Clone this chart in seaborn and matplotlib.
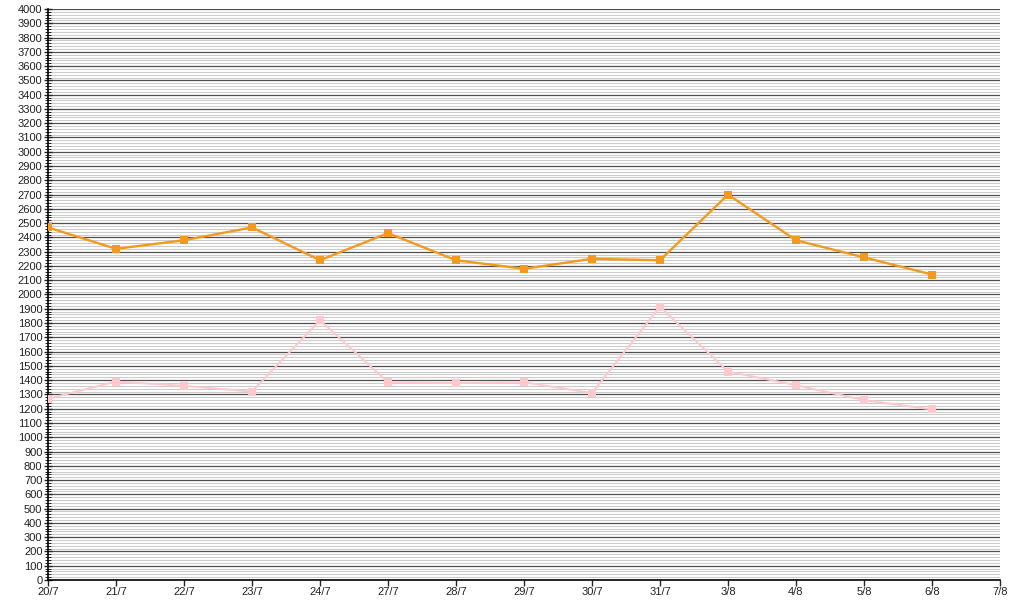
import numpy as np
import pandas as pd
import matplotlib.pyplot as plt
from matplotlib.ticker import MultipleLocator
import seaborn as sns

# Daily values
dates = ["20/7", "21/7", "22/7", "23/7", "24/7", "27/7", "28/7", "29/7",
         "30/7", "31/7", "3/8", "4/8", "5/8", "6/8"]
tick_labels = dates + ["7/8"]
orange_vals = [2470, 2320, 2380, 2470, 2240, 2430, 2240, 2180, 2250, 2240, 2700, 2380, 2260, 2140]
pink_vals = [1270, 1390, 1360, 1320, 1820, 1385, 1380, 1385, 1310, 1915, 1460, 1365, 1260, 1195]

df = pd.DataFrame({
    "pos": np.arange(len(dates)),
    "orange": orange_vals,
    "pink": pink_vals,
})

sns.set_style("white")
plt.rcParams["font.family"] = ["Liberation Sans", "DejaVu Sans"]

fig = plt.figure(figsize=(10.15, 6), dpi=100)
ax = fig.add_axes([48 / 1015, 20 / 600, 952 / 1015, 571 / 600])

sns.lineplot(data=df, x="pos", y="pink", ax=ax, color="#ffc8cc", linewidth=1.4,
             marker="s", markersize=5.5, markeredgewidth=0, zorder=3)
sns.lineplot(data=df, x="pos", y="orange", ax=ax, color="#f39a1e", linewidth=1.7,
             marker="s", markersize=5.5, markeredgewidth=0, zorder=4)

ax.set_xlim(0, len(tick_labels) - 1)
ax.set_ylim(0, 4000)
ax.set_xticks(range(len(tick_labels)))
ax.set_xticklabels(tick_labels)
ax.yaxis.set_major_locator(MultipleLocator(100))
ax.yaxis.set_minor_locator(MultipleLocator(20))

ax.grid(which="major", axis="y", color="#505050", linewidth=0.9)
ax.grid(which="minor", axis="y", color="#cccccc", linewidth=0.8)
ax.grid(which="major", axis="x", visible=False)
ax.set_axisbelow(True)

ax.tick_params(axis="y", which="major", direction="inout", length=6, width=1,
               labelsize=8, pad=1, left=True, labelcolor="#222222")
ax.tick_params(axis="y", which="minor", direction="inout", length=4, width=0.7, left=True)
ax.tick_params(axis="x", which="major", direction="out", length=4, width=1,
               labelsize=8, pad=1, bottom=True, labelcolor="#222222")

for side in ["top", "right"]:
    ax.spines[side].set_visible(False)
for side in ["left", "bottom"]:
    ax.spines[side].set_color("black")
    ax.spines[side].set_linewidth(1.2)

ax.set_xlabel("")
ax.set_ylabel("")

fig.savefig("out.png", dpi=100)
